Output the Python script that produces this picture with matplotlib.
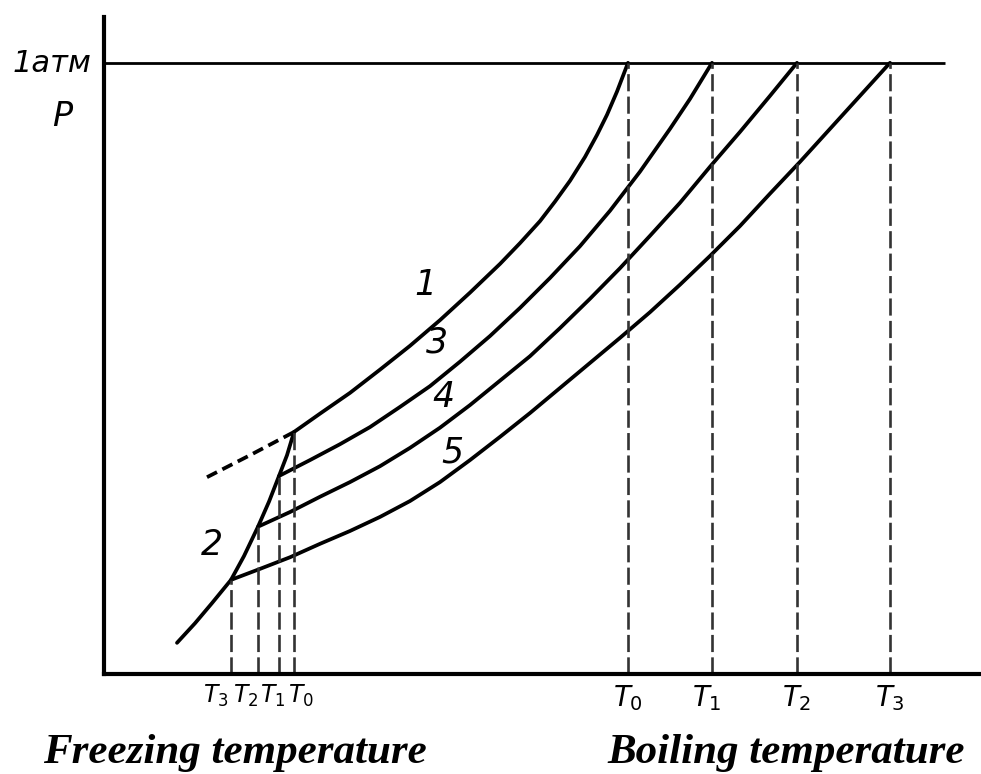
import matplotlib
matplotlib.use("Agg")
import matplotlib.pyplot as plt
import matplotlib.transforms as mtransforms

# Oś T w jednostkach umownych, ciśnienie w atm (1 atm = górna linia)
curve1_T = [187, 213, 243, 273, 303, 333, 363, 393, 413, 433, 448, 463, 478, 490, 500, 510, 521]
curve1_P = [0.396, 0.426, 0.460, 0.498, 0.537, 0.579, 0.624, 0.671, 0.705, 0.741,
            0.773, 0.807, 0.846, 0.882, 0.915, 0.953, 1.0]

curve3_T = [172, 203, 233, 263, 293, 323, 353, 383, 413, 443, 473, 503, 533, 563, 583, 605]
curve3_P = [0.324, 0.350, 0.376, 0.404, 0.437, 0.471, 0.511, 0.553, 0.599, 0.648,
            0.700, 0.758, 0.822, 0.892, 0.941, 1.0]

curve4_T = [151, 183, 213, 243, 273, 303, 333, 363, 393, 423, 453, 483, 513, 543,
            573, 603, 633, 663, 690]
curve4_P = [0.241, 0.265, 0.290, 0.314, 0.340, 0.370, 0.403, 0.440, 0.480, 0.520,
            0.566, 0.614, 0.664, 0.717, 0.771, 0.830, 0.887, 0.946, 1.0]

curve5_T = [124, 153, 183, 213, 243, 273, 303, 333, 363, 393, 423, 453, 483, 513,
            543, 573, 603, 633, 663, 693, 723, 753, 783]
curve5_P = [0.154, 0.172, 0.191, 0.213, 0.234, 0.257, 0.283, 0.314, 0.350, 0.388,
            0.427, 0.468, 0.509, 0.550, 0.592, 0.637, 0.684, 0.733, 0.786, 0.838,
            0.892, 0.946, 1.0]

# krzywa sublimacji (2)
curve2_T = [70, 88, 105, 124, 137, 151, 162, 172, 180, 187]
curve2_P = [0.051, 0.083, 0.116, 0.154, 0.193, 0.241, 0.282, 0.324, 0.358, 0.396]

# przedłużenie krzywej 1 (ciecz przechłodzona)
ext_T = [100, 143, 187]
ext_P = [0.322, 0.358, 0.396]

freeze_T = [124, 151, 172, 187]
freeze_P = [0.154, 0.241, 0.324, 0.396]
freeze_labels = ["$T_3$", "$T_2$", "$T_1$", "$T_0$"]

boil_T = [521, 605, 690, 783]
boil_labels = ["$T_0$", "$T_1$", "$T_2$", "$T_3$"]

curve_labels = ["1", "3", "4", "5", "2"]
curve_label_T = [318, 330, 336, 345, 105]
curve_label_P = [0.637, 0.542, 0.453, 0.363, 0.211]

plt.rcParams["mathtext.fontset"] = "dejavusans"

fig = plt.figure(figsize=(9.81, 7.74), dpi=100)
ax = fig.add_axes([104 / 981, 100 / 774, 877 / 981, 657 / 774])
ax.set_xlim(-3, 874)
ax.set_ylim(0, 1.075)

for s in ["top", "right"]:
    ax.spines[s].set_visible(False)
ax.spines["left"].set_linewidth(3)
ax.spines["bottom"].set_linewidth(3)
ax.set_xticks([])
ax.set_yticks([])

# linia 1 atm
ax.hlines(1.0, -3, 838, color="black", lw=2)

lw = 2.7
for T, P in [(curve1_T, curve1_P), (curve3_T, curve3_P), (curve4_T, curve4_P),
             (curve5_T, curve5_P), (curve2_T, curve2_P)]:
    ax.plot(T, P, color="black", lw=lw, solid_capstyle="round", solid_joinstyle="round")
ax.plot(ext_T, ext_P, color="black", lw=lw, linestyle=(0, (3, 1.6)))

dash = (0, (6.5, 2))
ax.vlines(freeze_T, 0, freeze_P, color="#333333", lw=1.9, linestyles=[dash])
ax.vlines(boil_T, 0, 1.0, color="#333333", lw=1.9, linestyles=[dash])

# podpisy osi T
freeze_dx = [-15, -12, -6, 7]
for t, lab, dx in zip(freeze_T, freeze_labels, freeze_dx):
    tr = ax.get_xaxis_transform() + mtransforms.ScaledTranslation(dx / 100, -9 / 100, fig.dpi_scale_trans)
    ax.text(t, 0, lab, transform=tr, fontsize=17, va="top", ha="center")
boil_dx = [0, -5, 0, 0]
for t, lab, dx in zip(boil_T, boil_labels, boil_dx):
    tr = ax.get_xaxis_transform() + mtransforms.ScaledTranslation(dx / 100, -9 / 100, fig.dpi_scale_trans)
    ax.text(t, 0, lab, transform=tr, fontsize=20, va="top", ha="center")

for lab, t, p in zip(curve_labels, curve_label_T, curve_label_P):
    ax.text(t, p, lab, fontsize=25, fontstyle="italic", ha="center", va="center",
            family=["Liberation Sans Narrow", "DejaVu Sans"])

fig.text(52 / 981, 1 - 64 / 774, "1атм", fontsize=22, fontstyle="italic",
         ha="center", va="center", family=["Liberation Sans Narrow", "DejaVu Sans"])
fig.text(62 / 981, 1 - 116 / 774, "P", fontsize=24, fontstyle="italic",
         ha="center", va="center", family=["Liberation Sans Narrow", "DejaVu Sans"])

bottom_font = dict(fontsize=31, fontweight="bold", fontstyle="italic",
                   family=["Liberation Serif", "DejaVu Serif"], ha="center", va="baseline")
fig.text(235 / 981, 1 - 763 / 774, "Freezing temperature", **bottom_font)
fig.text(786 / 981, 1 - 763 / 774, "Boiling temperature", **bottom_font)

fig.savefig("out.png", dpi=100)
